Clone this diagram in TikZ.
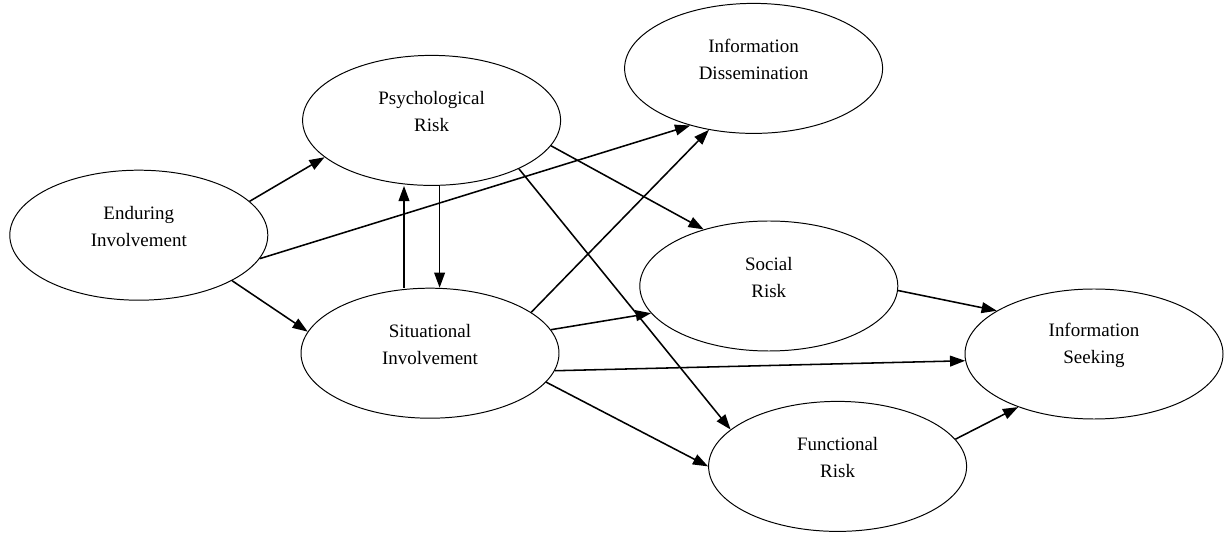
\documentclass[tikz,border=0pt]{standalone}
\usepackage{fontspec}
\setmainfont{Liberation Serif}
\usetikzlibrary{shapes}
\usetikzlibrary{arrows.meta}

\begin{document}
\begin{tikzpicture}
			\tikzstyle{construct}=[ellipse,draw,line width=0.7pt,minimum width=6.45cm,minimum height=3.25cm,inner sep=0pt]
			\tikzstyle{caption}=[align=center,font=\fontsize{13.5}{19}\selectfont,yshift=0.22cm]
			\tikzstyle{path}=[-{Triangle[length=0.38cm,width=0.27cm]},line width=1.1pt]
			\useasboundingbox (0,0) rectangle (30.625,-13.375);

			\node[construct,label={[caption]center:Enduring\\Involvement}] (ei) at (3.47,-5.88) {};
			\node[construct,label={[caption]center:Psychological\\Risk}] (pr) at (10.79,-3.01) {};
			\node[construct,label={[caption]center:Information\\Dissemination}] (id) at (18.84,-1.71) {};
			\node[construct,label={[caption]center:Social\\Risk}] (sr) at (19.22,-7.15) {};
			\node[construct,label={[caption]center:Situational\\Involvement}] (si) at (10.75,-8.83) {};
			\node[construct,label={[caption]center:Information\\Seeking}] (is) at (27.35,-8.85) {};
			\node[construct,label={[caption]center:Functional\\Risk}] (fr) at (20.94,-11.66) {};

			\draw[path] (ei.17) -- (pr.199);
			\draw[path] (ei.349) -- (id.222);
			\draw[path] (ei.334) -- (si.170);
			\draw[path] ([xshift=0.2cm]pr.south) -- ([xshift=0.2cm]pr.south |- si.north);
			\draw[path] ([xshift=-0.65cm]si.north) -- ([xshift=-0.65cm]si.north |- pr.south);
			\draw[path] (pr.348) -- (sr.139);
			\draw[path] (pr.331) -- (fr.161);
			\draw[path] (si.22) -- (id.234);
			\draw[path] (si.11) -- (sr.193);
			\draw[path] (si.352) -- (is.183);
			\draw[path] (si.346) -- (fr.180);
			\draw[path] (sr.358) -- (is.156);
			\draw[path] (fr.13) -- (is.215);
\end{tikzpicture}
\end{document}
